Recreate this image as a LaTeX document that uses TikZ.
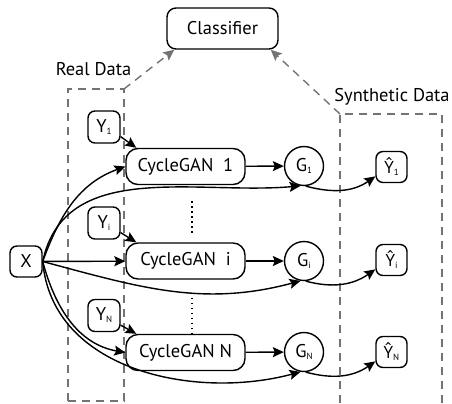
\documentclass[tikz,border=0pt]{standalone}
\usepackage{fontspec}
\setmainfont{PT Sans}
\newfontfamily\hatfont{Open Sans}
\usetikzlibrary{arrows.meta}
\newcommand\subs[1]{\raisebox{-2bp}{\fontsize{9}{9}\selectfont #1}}
\begin{document}
\begin{tikzpicture}[x=1bp,y=1bp,
  font=\fontsize{18.5}{20}\selectfont,
  line width=1.4bp,
  arr/.style={-{Stealth[length=11bp,width=10bp,inset=2bp]}},
  garr/.style={draw=black!55,dash pattern=on 8bp off 6bp,-{Stealth[length=11bp,width=10bp,inset=2bp]}},
  gdash/.style={draw=black!55,dash pattern=on 8bp off 6bp},
  smallbox/.style={draw,rounded corners=7bp,minimum width=32bp,minimum height=32bp,inner sep=0pt},
  ganbox/.style={draw,rounded corners=12bp,minimum width=119bp,minimum height=36bp,inner sep=0pt},
  gnode/.style={draw,circle,minimum size=39bp,inner sep=0pt},
  dotline/.style={line width=1.6bp,dash pattern=on 1.6bp off 3.4bp},
  lbl/.style={inner sep=0pt}
]
\useasboundingbox (0,0) rectangle (452,403);

% nodes
\node[draw,rounded corners=9bp,minimum width=111bp,minimum height=41bp,inner sep=0pt] (cls) at (222.5,374.5) {Classifier};
\node[lbl] (real) at (93.5,334) {Real Data};
\node[lbl] (synth) at (392,306) {Synthetic Data};

\node[smallbox] (y1) at (104,276) {Y\subs{1}};
\node[smallbox] (yi) at (104,180) {Y\subs{i}};
\node[smallbox] (yn) at (104,87.5) {Y\subs{N}};
\node[smallbox,minimum height=31bp] (x) at (26,141.5) {X};

\node[ganbox] (c1) at (185.5,236.5) {CycleGAN\ \ 1};
\node[ganbox] (ci) at (185.5,142) {CycleGAN\ \ i};
\node[ganbox] (cn) at (185.5,50.5) {CycleGAN N};

\node[gnode] (g1) at (304,237) {G\subs{1}};
\node[gnode] (gi) at (304,142) {G\subs{i}};
\node[gnode] (gn) at (304,51) {G\subs{N}};

\node[smallbox,minimum width=31bp,minimum height=31bp] (h1) at (391.5,236) {{\hatfont\fontsize{17}{20}\selectfont Ŷ}\subs{1}};
\node[smallbox,minimum width=31bp,minimum height=31bp] (hi) at (391.5,143) {{\hatfont\fontsize{17}{20}\selectfont Ŷ}\subs{i}};
\node[smallbox,minimum width=31bp,minimum height=31bp] (hn) at (391.5,51) {{\hatfont\fontsize{17}{20}\selectfont Ŷ}\subs{N}};

% dashed regions
\coordinate (lb) at (68,2);
\coordinate (lt) at (124,314);
\draw[gdash] (lb) rectangle (lt);
\draw[garr] (lt) -- ([xshift=8bp]cls.south west);
\coordinate (rt) at (340,289);
\coordinate (rtr) at (442,289);
\coordinate (rb) at (340,0);
\coordinate (rbr) at (442,0);
\draw[gdash] (rb) -- (rt) -- (rtr) -- (rbr);
\draw[garr] (rt) -- ([xshift=-8bp]cls.south east);

% dotted
\draw[dotline] ([xshift=6.5bp,yshift=-16bp]c1.south) -- ([xshift=6.5bp,yshift=8bp]ci.north);
\draw[dotline] ([xshift=6.5bp,yshift=-18bp]ci.south) -- ([xshift=6.5bp]cn.north);

% Y -> CycleGAN
\draw[arr] (y1.-30) -- ([xshift=11bp]c1.north west);
\draw[arr] (yi.-30) -- ([xshift=11bp]ci.north west);
\draw[arr] (yn.-30) -- ([xshift=11bp]cn.north west);

% CycleGAN -> G
\draw[arr] (c1) -- (g1);
\draw[arr] (ci) -- (gi);
\draw[arr] (cn) -- (gn);

% X -> ...
\draw[arr] (x.east) to[out=70,in=200] (c1.west);
\draw[arr] (x.east) to[out=78,in=185] (g1.-100);
\draw[arr] (x) -- (ci);
\draw[arr] (x.east) to[out=-15,in=195] (gi.-100);
\draw[arr] (x.east) to[out=-75,in=170] (cn.west);
\draw[arr] (x.east) to[out=-85,in=195] (gn.-100);

% G -> Yhat
\draw[arr] (g1.-85) to[out=-15,in=215] (h1.-150);
\draw[arr] (gi.-85) to[out=-15,in=215] (hi.-150);
\draw[arr] (gn.-85) to[out=-15,in=215] (hn.-150);
\end{tikzpicture}
\end{document}
